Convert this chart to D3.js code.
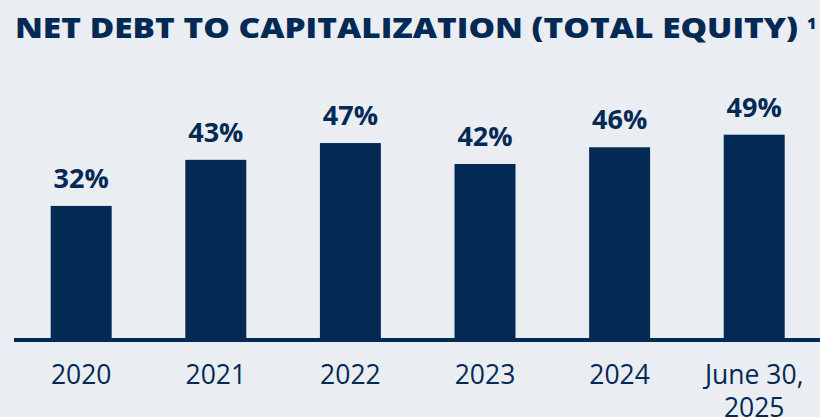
<!DOCTYPE html>
<html>
<head>
<meta charset="utf-8">
<script src="https://cdn.jsdelivr.net/npm/d3@7"></script>
<style>
  html, body { margin: 0; padding: 0; background: #eaeef3; }
  svg { display: block; }
</style>
</head>
<body>
<svg id="chart" width="820" height="417"></svg>
<script>
// Net debt to capitalization, by period end
const categories = ["2020", "2021", "2022", "2023", "2024", "June 30,\n2025"];
const values = [32, 43, 47, 42, 46, 49];
const valueLabels = ["32%", "43%", "47%", "42%", "46%", "49%"];
const titleText = "NET DEBT TO CAPITALIZATION (TOTAL EQUITY)";
const footnoteMark = "1";

const W = 820, H = 417;
const navy = "#032a54";
const font = "'Open Sans', 'Liberation Sans', sans-serif";

const svg = d3.select("#chart");
svg.append("rect").attr("width", W).attr("height", H).attr("fill", "#eaeef3");

const x = d3.scaleBand()
  .domain(categories)
  .range([50.7, 784.7])
  .paddingInner(0.547)
  .paddingOuter(0);

const y = d3.scaleLinear().domain([0, 50]).range([340, 130.5]);

// Title, stretched to its set width
const title = svg.append("text")
  .attr("x", 15)
  .attr("y", 37.7)
  .attr("fill", navy)
  .attr("font-family", font)
  .attr("font-weight", 800)
  .attr("font-size", 29)
  .text(titleText);
title.attr("textLength", 783).attr("lengthAdjust", "spacingAndGlyphs");

svg.append("text")
  .attr("x", 807)
  .attr("y", 29)
  .attr("fill", navy)
  .attr("font-family", font)
  .attr("font-weight", 800)
  .attr("font-size", 16)
  .text(footnoteMark);

// Bars
svg.selectAll("rect.bar")
  .data(values)
  .join("rect")
  .attr("class", "bar")
  .attr("x", (d, i) => x(categories[i]))
  .attr("width", x.bandwidth())
  .attr("y", d => y(d))
  .attr("height", d => y(0) - y(d))
  .attr("fill", navy);

// Baseline
svg.append("line")
  .attr("x1", 14).attr("x2", W)
  .attr("y1", y(0)).attr("y2", y(0))
  .attr("stroke", navy)
  .attr("stroke-width", 4);

// Value labels
svg.selectAll("text.value")
  .data(values)
  .join("text")
  .attr("class", "value")
  .attr("x", (d, i) => x(categories[i]) + x.bandwidth() / 2)
  .attr("y", d => y(d) - 18)
  .attr("text-anchor", "middle")
  .attr("fill", navy)
  .attr("font-family", font)
  .attr("font-weight", 700)
  .attr("font-size", 27)
  .text((d, i) => valueLabels[i]);

// Category labels
const cat = svg.selectAll("text.cat")
  .data(categories)
  .join("text")
  .attr("class", "cat")
  .attr("x", d => x(d) + x.bandwidth() / 2)
  .attr("y", 384.3)
  .attr("text-anchor", "middle")
  .attr("fill", navy)
  .attr("font-family", font)
  .attr("font-weight", 400)
  .attr("font-size", 26.5);

cat.each(function (d) {
  const lines = d.split("\n");
  const t = d3.select(this);
  lines.forEach((ln, j) => {
    t.append("tspan")
      .attr("x", x(d) + x.bandwidth() / 2)
      .attr("dy", j === 0 ? 0 : 33)
      .text(ln);
  });
});
</script>
</body>
</html>
